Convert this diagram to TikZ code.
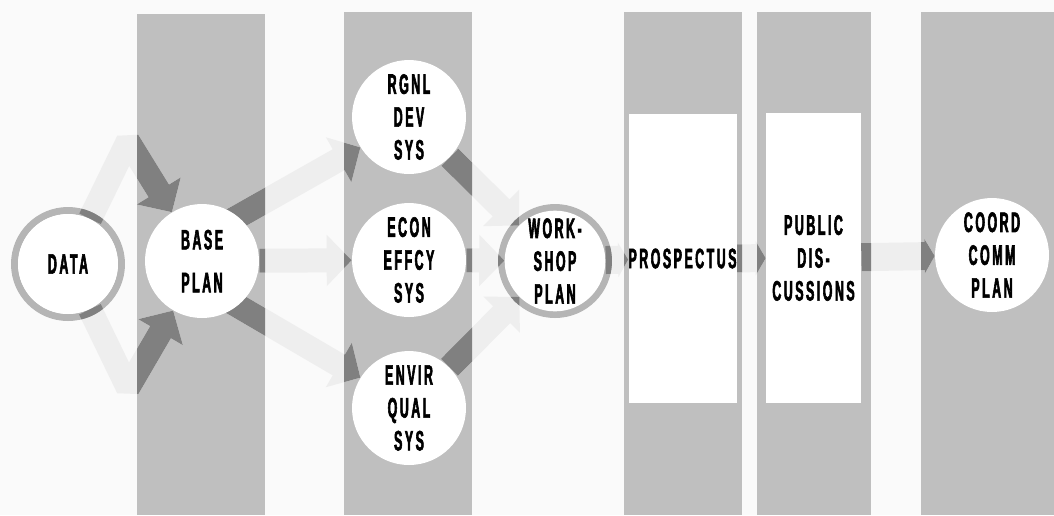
\documentclass[tikz,border=0pt]{standalone}
\usepackage{fontspec}
\usepackage{xcolor}
\usepackage{tikz}
\usetikzlibrary{shapes,positioning,calc}
\usetikzlibrary{arrows.meta}
\newfontfamily\stagefont{Liberation Sans}[FakeStretch=0.44,LetterSpace=9,FakeBold=2]
\definecolor{paper}{gray}{0.98}
\definecolor{colgray}{gray}{0.75}
\definecolor{ringgray}{gray}{0.71}
\definecolor{flowlight}{gray}{0.935}
\definecolor{flowdark}{gray}{0.5}
\tikzstyle{stage} = [circle, fill=white, inner sep=0pt, minimum size=2.28cm, align=center, font=\stagefont\bfseries\fontsize{16}{18.7}\selectfont]
\tikzstyle{ringstage} = [stage, minimum size=2.0cm]
\tikzstyle{panel} = [rectangle, fill=white, inner sep=0pt, align=center, font=\stagefont\bfseries\fontsize{16}{18.7}\selectfont]
\tikzstyle{flow} = [line width=0.48cm, line join=bevel, -{Triangle[width=1.0cm,length=0.5cm]}]
\tikzstyle{shortflow} = [line width=0.56cm, -{Triangle[width=0.68cm,length=0.2cm]}]
\pgfdeclarelayer{back}
\pgfdeclarelayer{flows}
\pgfsetlayers{back,flows,main}
% all the broad arrows, drawn in the colour of the scope
\newcommand\flowarrows{%
	\draw[flow] (data) -- (128,141) -- (base);
	\draw[flow] (data) -- (128,388) -- (base);
	\draw[flow] ($(base.center)+(0,-24)$) -- (rgnl.212);
	\draw[flow] (base) -- (econ);
	\draw[flow] ($(base.center)+(0,24)$) -- (envir.148);
	\draw[flow] (rgnl) -- (workshop);
	\draw[flow] (econ) -- (workshop);
	\draw[flow] (envir) -- (workshop);
	\draw[shortflow] (workshop) -- (prosp);
	\draw[shortflow] (prosp) -- (public);
	\draw[shortflow] (public) -- (coord);
}

\begin{document}
\begin{tikzpicture}[x=0.02cm,y=-0.02cm]
				% circles and panels
				\node[ringstage] (data) at (68,264) {DATA};
				\node[stage] (base) at (202,261) {BASE\\[5.7pt]PLAN};
				\node[stage] (rgnl) at (409,117) {RGNL\\DEV\\SYS};
				\node[stage] (econ) at (409,260) {ECON\\EFFCY\\SYS};
				\node[stage] (envir) at (409,408) {ENVIR\\QUAL\\SYS};
				\node[ringstage] (workshop) at (555,261) {WORK-\\SHOP\\PLAN};
				\node[panel, minimum width=2.02cm, minimum height=5.78cm] (prosp) at (682.5,258.5) {PROSPECTUS};
				\node[panel, minimum width=1.9cm, minimum height=5.8cm] (public) at (813.5,258) {PUBLIC\\DIS-\\CUSSIONS};
				\node[stage] (coord) at (992,255) {COORD\\COMM\\PLAN};
				% gray columns
				\begin{pgfonlayer}{back}
					\fill[paper] (0,0) rectangle (1054,515);
					\fill[colgray] (137,14) rectangle (265,515);
					\fill[colgray] (344,12) rectangle (472,515);
					\fill[colgray] (624,12) rectangle (742,515);
					\fill[colgray] (757,12) rectangle (871,515);
					\fill[colgray] (921,12) rectangle (1054,515);
				\end{pgfonlayer}
				% arrows, light on paper and dark on the columns and rings
				\begin{pgfonlayer}{flows}
					\begin{scope}[flowlight]
						\flowarrows
					\end{scope}
					\draw[ringgray, line width=0.14cm] (data) circle (1.07cm);
					\draw[ringgray, line width=0.14cm] (workshop) circle (1.07cm);
					\begin{scope}
						\clip (137,14) rectangle (265,515) (344,12) rectangle (472,515) (624,12) rectangle (742,515) (757,12) rectangle (871,515) (921,12) rectangle (1054,515);
						\begin{scope}[flowdark]
							\flowarrows
						\end{scope}
					\end{scope}
					\begin{scope}
						\clip (data) circle (1.14cm) (workshop) circle (1.14cm);
						\begin{scope}[flowdark]
							\flowarrows
						\end{scope}
					\end{scope}
				\end{pgfonlayer}
				\useasboundingbox (0,0) rectangle (1054,515);
\end{tikzpicture}
\end{document}
